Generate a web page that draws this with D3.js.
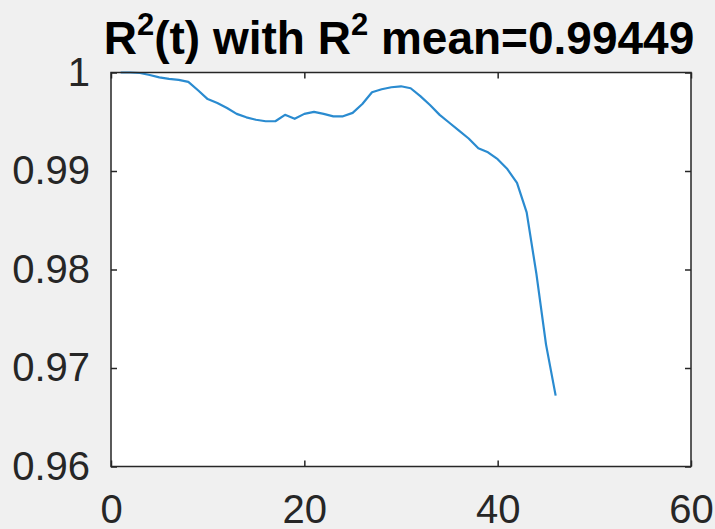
<!DOCTYPE html>
<html>
<head>
<meta charset="utf-8">
<script src="https://cdn.jsdelivr.net/npm/d3@7"></script>
<style>
  html, body { margin: 0; padding: 0; background: #f0f0f0; }
  svg { display: block; }
  .axis text { font-family: "Liberation Sans", Arial, sans-serif; font-size: 40px; fill: #262626; }
  .axis path { display: none; }
  .axis line { stroke: #262626; stroke-width: 1.5; }
</style>
</head>
<body>
<svg id="chart" width="715" height="529"></svg>
<script>
// R^2 over time steps
const tValues = [1, 2, 3, 4, 5, 6, 7, 8, 9, 10, 11, 12, 13, 14, 15, 16, 17, 18, 19, 20, 21, 22, 23,
  24, 25, 26, 27, 28, 29, 30, 31, 32, 33, 34, 35, 36, 37, 38, 39, 40, 41, 42, 43, 44, 45, 46];
const r2Values = [1.0000, 1.0000, 0.99995, 0.99975, 0.9995, 0.99935, 0.99925, 0.99905, 0.9982, 0.9973,
  0.9969, 0.9964, 0.9958, 0.99545, 0.9952, 0.99505, 0.99505, 0.9957, 0.9953, 0.9958, 0.9960,
  0.9958, 0.99555, 0.99555, 0.9959, 0.9968, 0.9980, 0.9983, 0.9985, 0.9986, 0.9984, 0.9976,
  0.9967, 0.9957, 0.9949, 0.9941, 0.9933, 0.9923, 0.9919, 0.9912, 0.9902, 0.9888, 0.9858,
  0.9796, 0.9724, 0.9672];
const xTicks = [0, 20, 40, 60];
const yTicks = [0.96, 0.97, 0.98, 0.99, 1];
const meanLabel = "0.99449";

const svg = d3.select("#chart");
const plotL = 111, plotR = 691, plotT = 72.5, plotB = 466.5;

const x = d3.scaleLinear().domain([0, 60]).range([plotL, plotR]);
const y = d3.scaleLinear().domain([0.96, 1]).range([plotB, plotT]);

// plot background
svg.append("rect")
  .attr("x", plotL).attr("y", plotT)
  .attr("width", plotR - plotL).attr("height", plotB - plotT)
  .attr("fill", "#ffffff");

// data line
const points = tValues.map((t, i) => [t, r2Values[i]]);
svg.append("path")
  .datum(points)
  .attr("fill", "none")
  .attr("stroke", "#2a8bd0")
  .attr("stroke-width", 2.2)
  .attr("stroke-linejoin", "round")
  .attr("d", d3.line().x(d => x(d[0])).y(d => y(d[1])));

const fmtY = d => String(+d.toFixed(2));
const tick = 6;

svg.append("g").attr("class", "axis")
  .attr("transform", `translate(0,${plotB})`)
  .call(d3.axisBottom(x).tickValues(xTicks).tickSize(-tick).tickPadding(28).tickFormat(d3.format("d")));
svg.append("g").attr("class", "axis")
  .attr("transform", `translate(0,${plotT})`)
  .call(d3.axisTop(x).tickValues(xTicks).tickSize(-tick).tickFormat(""));
svg.append("g").attr("class", "axis")
  .attr("transform", `translate(${plotL},0)`)
  .call(d3.axisLeft(y).tickValues(yTicks).tickSize(-tick).tickPadding(21).tickFormat(fmtY));
svg.append("g").attr("class", "axis")
  .attr("transform", `translate(${plotR},0)`)
  .call(d3.axisRight(y).tickValues(yTicks).tickSize(-tick).tickFormat(""));

// axes box
svg.append("rect")
  .attr("x", plotL).attr("y", plotT)
  .attr("width", plotR - plotL).attr("height", plotB - plotT)
  .attr("fill", "none")
  .attr("stroke", "#262626")
  .attr("stroke-width", 1.5);

// title with superscripts
const title = svg.append("text")
  .attr("x", (plotL + plotR) / 2 - 2)
  .attr("y", 54)
  .attr("text-anchor", "middle")
  .attr("font-family", "Liberation Sans, Arial, sans-serif")
  .attr("font-weight", "bold")
  .attr("font-size", 46)
  .attr("fill", "#000");
title.append("tspan").text("R");
title.append("tspan").attr("font-size", 31).attr("dy", -19).text("2");
title.append("tspan").attr("dy", 19).text("(t) with R");
title.append("tspan").attr("font-size", 31).attr("dy", -19).text("2");
title.append("tspan").attr("dy", 19).text(" mean=" + meanLabel);
</script>
</body>
</html>
